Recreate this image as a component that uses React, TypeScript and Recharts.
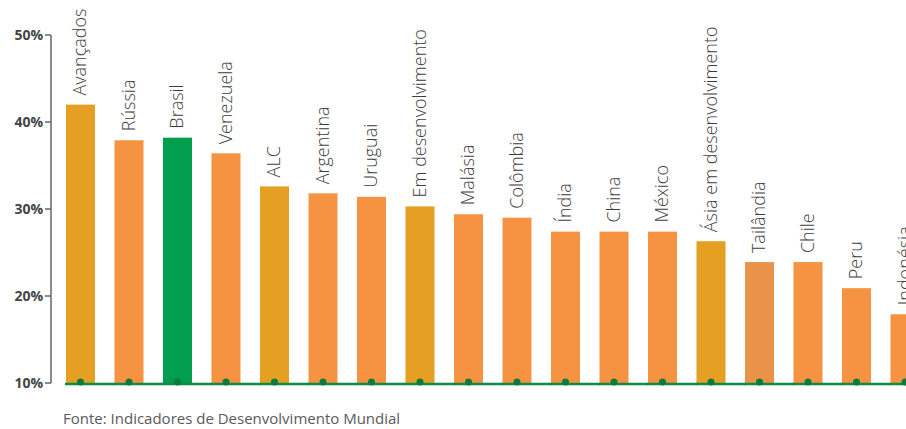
import { BarChart, Bar, XAxis, YAxis, LabelList, Cell } from "recharts";

const categorias = [
  "Avançados", "Rússia", "Brasil", "Venezuela", "ALC", "Argentina", "Uruguai",
  "Em desenvolvimento", "Malásia", "Colômbia", "Índia", "China", "México",
  "Ásia em desenvolvimento", "Tailândia", "Chile", "Peru", "Indonésia",
];
const valores = [42.0, 37.9, 38.2, 36.4, 32.6, 31.8, 31.4, 30.3, 29.4, 29.0, 27.4, 27.4, 27.4, 26.3, 23.9, 23.9, 20.9, 17.9];
const grupos = [
  "agregado", "pais", "brasil", "pais", "agregado", "pais", "pais",
  "agregado", "pais", "pais", "pais", "pais", "pais",
  "agregado", "destaque", "pais", "pais", "pais",
];
const ticksY = [10, 20, 30, 40, 50];
const fonte = "Fonte: Indicadores de Desenvolvimento Mundial";

const data = categorias.map((name, i) => ({ name, valor: valores[i], grupo: grupos[i] }));

const CORES: Record<string, string> = {
  agregado: "#E5A024",
  pais: "#F59342",
  brasil: "#009E4E",
  destaque: "#E9934A",
};
const VERDE_LINHA = "#0E8C44";
const VERDE_PONTO = "#0B7B3C";
const FONT = "'Open Sans', 'DejaVu Sans', sans-serif";

function BarraComBase(props: any) {
  const { x, y, width, height, fill } = props;
  const base = y + height;
  return (
    <g>
      <rect x={x} y={y} width={width} height={height} fill={fill} />
      <line x1={x - 1} x2={x + width + 20} y1={base + 1} y2={base + 1} stroke={VERDE_LINHA} strokeWidth={2.5} />
      <circle cx={x + width / 2} cy={base - 1} r={3.5} fill={VERDE_PONTO} />
    </g>
  );
}

function RotuloVertical(props: any) {
  const { x, y, width, value } = props;
  const tx = x + width / 2 + 6;
  const ty = y - 9;
  return (
    <text
      x={tx}
      y={ty}
      transform={`rotate(-90, ${tx}, ${ty})`}
      textAnchor="start"
      fill="#3d3d3d"
      fontSize={18}
      fontWeight={300}
      fontFamily={FONT}
    >
      {value}
    </text>
  );
}

export default function App() {
  return (
    <div style={{ position: "absolute", left: 0, top: 0, width: 906, height: 429, overflow: "hidden", background: "#fff" }}>
      <BarChart
        width={960}
        height={400}
        data={data}
        margin={{ top: 35, right: 31, bottom: 17, left: 0 }}
        barSize={29}
      >
        <XAxis dataKey="name" hide padding={{ left: 5, right: 0 }} />
        <YAxis
          width={51}
          domain={[10, 50]}
          ticks={ticksY}
          tickFormatter={(v) => `${v}%`}
          axisLine={{ stroke: "#666", strokeWidth: 1.5 }}
          tickLine={{ stroke: "#666", strokeWidth: 1.5 }}
          tickSize={6}
          tickMargin={2}
          tick={{ fill: "#444", fontSize: 14, fontWeight: 700, fontFamily: FONT }}
        />
        <Bar dataKey="valor" isAnimationActive={false} shape={<BarraComBase />}>
          {data.map((d) => (
            <Cell key={d.name} fill={CORES[d.grupo]} />
          ))}
          <LabelList dataKey="name" content={<RotuloVertical />} />
        </Bar>
      </BarChart>
      <div
        style={{
          position: "absolute",
          left: 63,
          top: 409,
          fontFamily: FONT,
          fontSize: 15,
          fontWeight: 400,
          lineHeight: "18px",
          color: "#5a5a5a",
          whiteSpace: "nowrap",
        }}
      >
        {fonte}
      </div>
    </div>
  );
}
